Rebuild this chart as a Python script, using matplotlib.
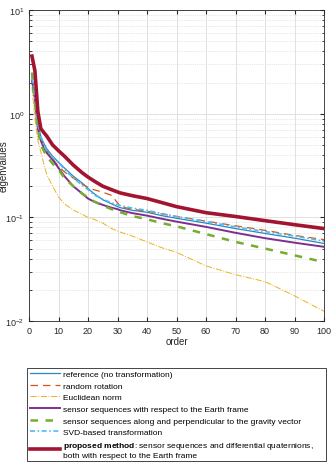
import matplotlib
matplotlib.use('Agg')
import matplotlib.pyplot as plt
from matplotlib.ticker import LogLocator, NullFormatter

plt.rcParams['font.family'] = ['Liberation Sans', 'DejaVu Sans']
plt.rcParams['mathtext.fontset'] = 'custom'
plt.rcParams['mathtext.rm'] = 'Liberation Sans'
plt.rcParams['mathtext.bf'] = 'Liberation Sans:bold'

orders = [1, 2, 3, 4, 5, 6, 8, 10, 12, 15, 18, 20, 22, 25, 28, 30, 31, 35, 40, 45, 50, 60, 70, 80, 90, 100]

reference = [2.1, 1.5, 0.8, 0.6, 0.52, 0.46, 0.39, 0.34, 0.30, 0.25, 0.215, 0.19, 0.17, 0.148, 0.135, 0.127,
             0.124, 0.117, 0.112, 0.104, 0.098, 0.088, 0.078, 0.070, 0.063, 0.056]
random_rot = [2.3, 1.4, 0.75, 0.56, 0.49, 0.44, 0.37, 0.31, 0.275, 0.24, 0.21, 0.195, 0.185, 0.175, 0.163, 0.138,
              0.127, 0.12, 0.115, 0.108, 0.102, 0.092, 0.083, 0.075, 0.067, 0.061]
euclid = [1.8, 0.9, 0.55, 0.43, 0.33, 0.26, 0.2, 0.158, 0.135, 0.118, 0.107, 0.1, 0.096, 0.088, 0.078, 0.074,
          0.072, 0.066, 0.058, 0.051, 0.046, 0.034, 0.028, 0.024, 0.0175, 0.0124]
earth = [2.1, 1.4, 0.72, 0.55, 0.47, 0.42, 0.36, 0.30, 0.25, 0.20, 0.17, 0.152, 0.142, 0.132, 0.124, 0.12,
         0.117, 0.11, 0.104, 0.097, 0.091, 0.081, 0.071, 0.063, 0.057, 0.052]
gravity = [2.5, 1.3, 0.7, 0.5, 0.44, 0.39, 0.33, 0.29, 0.24, 0.2, 0.17, 0.155, 0.143, 0.13, 0.12, 0.115,
           0.112, 0.103, 0.096, 0.088, 0.082, 0.069, 0.058, 0.05, 0.043, 0.037]
svd = [2.2, 1.45, 0.78, 0.6, 0.5, 0.44, 0.38, 0.34, 0.29, 0.24, 0.205, 0.185, 0.165, 0.15, 0.138, 0.133,
       0.13, 0.123, 0.117, 0.109, 0.102, 0.091, 0.081, 0.073, 0.066, 0.059]
proposed = [3.6, 2.6, 1.05, 0.72, 0.66, 0.61, 0.50, 0.44, 0.39, 0.32, 0.27, 0.245, 0.225, 0.2, 0.185, 0.176,
            0.172, 0.162, 0.152, 0.139, 0.127, 0.111, 0.102, 0.093, 0.085, 0.078]

labels = ['reference (no transformation)',
          'random rotation',
          'Euclidean norm',
          'sensor sequences with respect to the Earth frame',
          'sensor sequences along and perpendicular to the gravity vector',
          'SVD-based transformation',
          r'$\bf{proposed\ method}$: sensor sequences and differential quaternions,' + '\n'
          + 'both with respect to the Earth frame']

fig = plt.figure(figsize=(3.31, 4.64), dpi=100)
ax = fig.add_axes([0.0876, 0.306, 0.8914, 0.67])

ax.plot(orders, reference, color='#2a86c0', lw=0.9, label=labels[0])
ax.plot(orders, random_rot, color='#D95319', lw=0.9, ls=(0, (6, 4)), label=labels[1])
ax.plot(orders, euclid, color='#EDB120', lw=0.7, ls='-.', label=labels[2])
ax.plot(orders, earth, color='#7E2F8E', lw=1.4, label=labels[3])
ax.plot(orders, gravity, color='#77AC30', lw=1.8, ls=(0, (3, 3)), label=labels[4])
ax.plot(orders, svd, color='#4DBEEE', lw=1.2, ls=(0, (3, 1.5, 1, 1.5)), label=labels[5])
ax.plot(orders, proposed, color='#A2142F', lw=2.6, label=labels[6])

ax.set_yscale('log')
ax.set_xlim(0, 100)
ax.set_ylim(1e-2, 1e1)
ax.set_xticks(range(0, 101, 10))
ax.yaxis.set_minor_locator(LogLocator(base=10, subs=range(2, 10)))
ax.yaxis.set_minor_formatter(NullFormatter())

ax.grid(True, which='major', color='#dcdcdc', lw=0.6)
ax.grid(True, which='minor', axis='y', color='#d0d0d0', lw=0.5, ls=':')
ax.set_axisbelow(True)
ax.tick_params(which='both', direction='in', top=True, right=True, labelsize=6.5, colors='#262626')
ax.tick_params(which='major', length=3)
ax.tick_params(which='minor', length=1.8)
for s in ax.spines.values():
    s.set_color('#262626')
    s.set_linewidth(0.6)

ax.set_xlabel('order', fontsize=7, labelpad=1, color='#262626')
ax.set_ylabel('eigenvalues', fontsize=7, color='#262626')
ax.yaxis.set_label_coords(-0.068, 0.5)

leg = fig.legend(loc='upper left', bbox_to_anchor=(0.082, 0.205, 0.903, 0.0), mode='expand',
                 fontsize=6, handlelength=3.7, handletextpad=0.3, labelspacing=0.45,
                 borderpad=0.3, borderaxespad=0, fancybox=False, edgecolor='#262626', framealpha=1)
leg.get_frame().set_linewidth(0.6)

fig.savefig('out.png', dpi=100)
